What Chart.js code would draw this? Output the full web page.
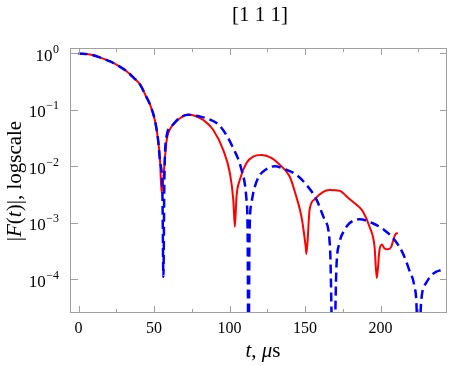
<!DOCTYPE html>
<html lang="en">
<head>
<meta charset="UTF-8">
<title>[1 1 1]</title>
<script src="https://cdn.jsdelivr.net/npm/chart.js"></script>
<style>
  body { margin: 0; background: #fff; }
</style>
</head>
<body>
<canvas id="fidelity" width="457" height="366"></canvas>
<script>
// measured curve (red, solid)
const redT = [0, 7.7, 14, 20.9, 27, 32, 36.5, 40.8, 44.5, 47.4, 50.7, 52.8, 54, 55, 56.1, 57.3, 58.4, 61.7, 67.2, 72.5,
  77.5, 82.6, 89, 95.8, 100.2, 102.5, 103.5, 104.6, 106.8, 111.2, 115.6, 121.1, 127.7, 133.2, 139.8, 144.2, 147.6, 150.4,
  150.9, 153, 156.3, 161.8, 166.2, 172.8, 178.3, 183.9, 188.2, 192.7, 196, 197.5, 199.3, 201, 202.6, 204.8, 207, 208.5,
  209.8, 211.4];
const redF = [1, 0.955, 0.85, 0.72, 0.59, 0.48, 0.37, 0.28, 0.178, 0.123, 0.063, 0.0275, 0.012, 0.0034, 0.0058, 0.015, 0.0295, 0.051, 0.071, 0.082,
  0.078, 0.066, 0.045, 0.0195, 0.0076, 0.0025, 0.00085, 0.0029, 0.0058, 0.0115, 0.0148, 0.0158, 0.0141, 0.0107, 0.0066, 0.0029, 0.00129, 0.00038,
  0.00028, 0.0017, 0.0026, 0.0035, 0.0038, 0.0037, 0.0028, 0.0021, 0.0016, 0.00085, 0.00038, 0.000105, 0.00033, 0.00041, 0.00035, 0.00034, 0.00037, 0.0005,
  0.00062, 0.00066];

// theory curve (blue, dashed)
const blueT = [0, 7.7, 14, 20.9, 27, 32, 36.5, 40.8, 44.5, 47.4, 50.7, 52.8, 54, 55.5, 56.2, 56.8, 57.9, 61.7, 67.2, 72.7,
  80.4, 84.8, 93.6, 102.4, 107.9, 111.2, 112, 112.5, 113.2, 114.5, 115.6, 118.9, 124.4, 129.9, 137.6, 144.2, 150.9, 157.5,
  163, 166.5, 168.8, 170.7, 172.8, 176.1, 179.4, 186, 194.8, 202.6, 209.2, 214.7, 219, 222.4, 223.9, 225, 226.8, 230.1,
  233.4, 236.7, 240];
const blueF = [1, 0.955, 0.85, 0.72, 0.59, 0.48, 0.37, 0.28, 0.178, 0.123, 0.063, 0.0275, 0.012, 0.004, 0.00011, 0.005, 0.029, 0.052, 0.073, 0.082,
  0.076, 0.071, 0.052, 0.021, 0.0087, 0.0026, 0.0006, 0.000001, 0.0006, 0.0022, 0.0033, 0.0062, 0.0089, 0.01, 0.0087, 0.0071, 0.0047, 0.0026,
  0.00112, 0.00038, 0.000001, 0.000145, 0.00044, 0.00074, 0.00098, 0.00115, 0.00098, 0.00074, 0.0005, 0.00029, 0.000145, 0.000074, 0.000029, 0.000001, 0.000037, 0.000085,
  0.000115, 0.000135, 0.000145];

const xTicks = [0, 50, 100, 150, 200];
const xMinorTicks = [25, 75, 125, 175, 225];
const yExponents = [0, -1, -2, -3, -4];

const serif = '"Liberation Serif", "Times New Roman", serif';
const frameColor = '#a0a0a0';

function toPoints(ts, fs) {
  return ts.map((t, i) => ({ x: t, y: fs[i] }));
}

// draws pieces of text [str, italic] one after another, centred on x
function drawParts(ctx, parts, x, y, size) {
  let total = 0;
  const widths = parts.map(p => {
    ctx.font = (p[1] ? 'italic ' : '') + size + 'px ' + serif;
    const w = ctx.measureText(p[0]).width;
    total += w;
    return w;
  });
  let cx = x - total / 2;
  parts.forEach((p, i) => {
    ctx.font = (p[1] ? 'italic ' : '') + size + 'px ' + serif;
    ctx.fillText(p[0], cx, y);
    cx += widths[i];
  });
}

const framePlugin = {
  id: 'frame',
  afterDatasetsDraw(chart) {
    const { ctx, chartArea: a, scales: { x, y } } = chart;
    ctx.save();
    ctx.strokeStyle = frameColor;
    ctx.lineWidth = 1;
    ctx.strokeRect(a.left - 0.5, a.top + 0.5, a.right - a.left, a.bottom - a.top - 1);
    ctx.beginPath();
    const xt = (v, len) => {
      const px = Math.round(x.getPixelForValue(v)) + 0.5;
      ctx.moveTo(px, a.bottom); ctx.lineTo(px, a.bottom - len);
      ctx.moveTo(px, a.top); ctx.lineTo(px, a.top + len);
    };
    xTicks.forEach(v => xt(v, 7));
    xMinorTicks.forEach(v => xt(v, 4));
    yExponents.forEach(e => {
      const py = Math.round(y.getPixelForValue(Math.pow(10, e))) + 0.5;
      ctx.moveTo(a.left, py); ctx.lineTo(a.left + 7, py);
      ctx.moveTo(a.right, py); ctx.lineTo(a.right - 7, py);
    });
    ctx.stroke();
    ctx.restore();
  },
  afterDraw(chart) {
    const { ctx, chartArea: a, scales: { x, y } } = chart;
    ctx.save();
    ctx.fillStyle = '#000';

    // title
    ctx.textAlign = 'center';
    ctx.textBaseline = 'middle';
    ctx.font = '21px ' + serif;
    ctx.fillText('[1 1 1]', 260, 15);

    // x tick labels
    ctx.font = '16px ' + serif;
    xTicks.forEach(v => ctx.fillText(String(v), x.getPixelForValue(v), 328.5));

    // y tick labels 10^e
    ctx.textBaseline = 'alphabetic';
    yExponents.forEach(e => {
      const py = y.getPixelForValue(Math.pow(10, e));
      const sup = e === 0 ? '0' : '\u2212' + (-e);
      ctx.font = '12px ' + serif;
      const sw = ctx.measureText(sup).width;
      ctx.textAlign = 'left';
      ctx.fillText(sup, 59 - sw, py - 0.5);
      ctx.font = '17px ' + serif;
      ctx.textAlign = 'right';
      ctx.fillText('10', 59 - sw - 0.5, py + 7.5);
    });

    // x axis label
    ctx.textAlign = 'left';
    drawParts(ctx, [['t', true], [', ', false], ['\u03bc', true], ['s', false]], 263, 357, 21);

    // y axis label
    ctx.translate(21, 181);
    ctx.rotate(-Math.PI / 2);
    drawParts(ctx, [['|', false], ['F', true], ['(', false], ['t', true], [')|, logscale', false]], 0, 0, 21);
    ctx.restore();
  }
};

new Chart(document.getElementById('fidelity'), {
  type: 'line',
  data: {
    datasets: [{
      label: 'theory',
      data: toPoints(blueT, blueF),
      borderColor: '#0000ff',
      borderWidth: 2.5,
      borderDash: [9, 5],
      pointRadius: 0,
      cubicInterpolationMode: 'monotone',
      clip: 0
    }, {
      label: 'measured',
      data: toPoints(redT, redF),
      borderColor: '#ff0000',
      borderWidth: 2,
      pointRadius: 0,
      cubicInterpolationMode: 'monotone',
      clip: 0
    }]
  },
  options: {
    responsive: false,
    animation: false,
    layout: { padding: { top: 48, right: 10, left: 0, bottom: 0 } },
    plugins: { legend: { display: false }, tooltip: { enabled: false }, title: { display: false } },
    scales: {
      x: {
        type: 'linear', min: -5, max: 244,
        ticks: { display: false }, grid: { display: false }, border: { display: false },
        afterFit: s => { s.height = 53; }
      },
      y: {
        type: 'logarithmic', min: 2.52e-5, max: 1.247,
        ticks: { display: false }, grid: { display: false }, border: { display: false },
        afterFit: s => { s.width = 71; }
      }
    }
  },
  plugins: [framePlugin]
});
</script>
</body>
</html>
